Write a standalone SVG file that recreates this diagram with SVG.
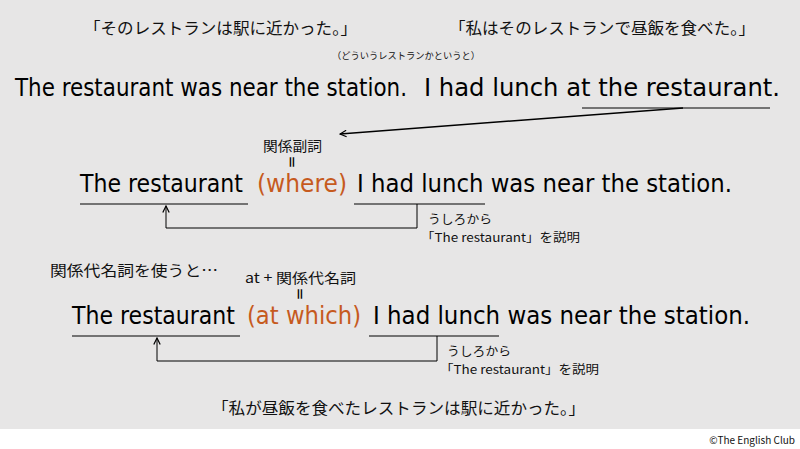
<svg xmlns="http://www.w3.org/2000/svg" width="800" height="449" viewBox="0 0 800 449">
<defs>
<style>
.jp{font-family:"Noto Sans CJK JP","Noto Sans",sans-serif;fill:#111}
.en{font-family:"DejaVu Sans","Noto Sans CJK JP",sans-serif;fill:#000}
.or{fill:#C65A1E}
.ln{stroke:#000;stroke-width:1;fill:none}
.ar{stroke:#000;stroke-width:1.5;fill:none}
</style>
<marker id="head" viewBox="0 0 10 10" refX="9" refY="5" markerWidth="8" markerHeight="8" orient="auto" markerUnits="userSpaceOnUse">
<path d="M1,1 L9,5 L1,9" fill="none" stroke="#000" stroke-width="1.5"/>
</marker>
</defs>
<rect x="0" y="0" width="800" height="429" fill="#e7e6e6"/>
<rect x="0" y="429" width="800" height="20" fill="#ffffff"/>

<g id="top-ja-left"><text class="jp" x="84" y="34" font-size="16" textLength="273" lengthAdjust="spacingAndGlyphs">「そのレストランは駅に近かった。」</text></g>
<g id="top-ja-right"><text class="jp" x="449" y="34" font-size="16" textLength="306" lengthAdjust="spacingAndGlyphs">「私はそのレストランで昼飯を食べた。」</text></g>
<g id="note"><text class="jp" x="332" y="59" font-size="9.5" textLength="148" lengthAdjust="spacingAndGlyphs">（どういうレストランかというと）</text></g>

<g id="sentence1">
<text class="en" x="15" y="96" font-size="24" textLength="392" lengthAdjust="spacingAndGlyphs">The restaurant was near the station.</text>
<text class="en" x="424" y="96" font-size="24" textLength="356" lengthAdjust="spacingAndGlyphs">I had lunch at the restaurant.</text>
</g>

<g id="label-adverb">
<text class="jp" x="263" y="151" font-size="14" textLength="59" lengthAdjust="spacingAndGlyphs">関係副詞</text>
<text class="en" x="0" y="0" font-size="15" text-anchor="middle" transform="translate(287,162) rotate(90)">=</text>
</g>

<g id="sentence2">
<text class="en" x="80" y="192" font-size="24" textLength="163" lengthAdjust="spacingAndGlyphs">The restaurant</text>
<text class="en or" x="257" y="192" font-size="24" textLength="90" lengthAdjust="spacingAndGlyphs">(where)</text>
<text class="en" x="357" y="192" font-size="24" textLength="375" lengthAdjust="spacingAndGlyphs">I had lunch was near the station.</text>
</g>

<g id="note2">
<text class="jp" x="428" y="224" font-size="12" textLength="64" lengthAdjust="spacingAndGlyphs">うしろから</text>
<text class="jp" x="421" y="242" font-size="12" textLength="159" lengthAdjust="spacingAndGlyphs">「The restaurant」を説明</text>
</g>

<g id="heading-pronoun"><text class="jp" x="50" y="276" font-size="15" textLength="168" lengthAdjust="spacingAndGlyphs">関係代名詞を使うと…</text></g>

<g id="label-pronoun">
<text class="jp" x="245" y="283" font-size="14" textLength="111" lengthAdjust="spacingAndGlyphs">at + 関係代名詞</text>
<text class="en" x="0" y="0" font-size="15" text-anchor="middle" transform="translate(295,294) rotate(90)">=</text>
</g>

<g id="sentence3">
<text class="en" x="72" y="324" font-size="24" textLength="163" lengthAdjust="spacingAndGlyphs">The restaurant</text>
<text class="en or" x="247" y="324" font-size="24" textLength="114" lengthAdjust="spacingAndGlyphs">(at which)</text>
<text class="en" x="373" y="324" font-size="24" textLength="377" lengthAdjust="spacingAndGlyphs">I had lunch was near the station.</text>
</g>

<g id="note3">
<text class="jp" x="447" y="356" font-size="12" textLength="64" lengthAdjust="spacingAndGlyphs">うしろから</text>
<text class="jp" x="440" y="374" font-size="12" textLength="159" lengthAdjust="spacingAndGlyphs">「The restaurant」を説明</text>
</g>

<g id="bottom-ja"><text class="jp" x="212" y="414" font-size="16" textLength="373" lengthAdjust="spacingAndGlyphs">「私が昼飯を食べたレストランは駅に近かった。」</text></g>
<g id="copyright"><text class="jp" x="795" y="444" font-size="10" text-anchor="end">©The English Club</text></g>

<g id="connectors">
<line class="ln" x1="582" y1="108" x2="770" y2="108"/>
<line class="ar" x1="683" y1="108" x2="340" y2="134" marker-end="url(#head)"/>

<line class="ln" x1="80" y1="204" x2="248" y2="204"/>
<line class="ln" x1="354" y1="204" x2="485" y2="204"/>
<polyline class="ln" points="417,204 417,228 166,228 166,206" marker-end="url(#head)"/>

<line class="ln" x1="72" y1="336" x2="240" y2="336"/>
<line class="ln" x1="369" y1="336" x2="499" y2="336"/>
<polyline class="ln" points="437,336 437,361 157,361 157,338" marker-end="url(#head)"/>
</g>
</svg>
